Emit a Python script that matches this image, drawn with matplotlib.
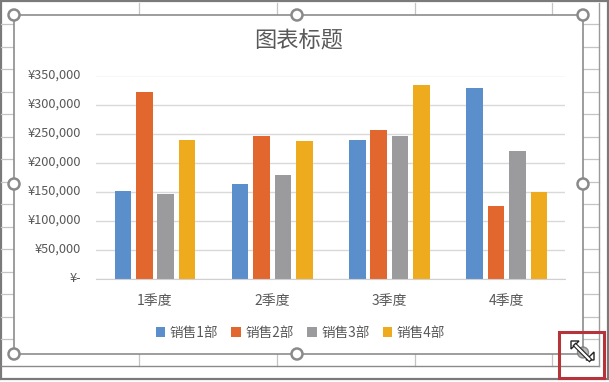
import matplotlib
matplotlib.use("Agg")
import matplotlib.pyplot as plt
import numpy as np
from matplotlib.patches import Circle, Rectangle
from matplotlib.transforms import ScaledTranslation

plt.rcParams["font.family"] = ["Noto Sans CJK SC", "DejaVu Sans"]

W, H = 609, 382

quarters = ["1季度", "2季度", "3季度", "4季度"]
series_names = ["销售1部", "销售2部", "销售3部", "销售4部"]
sales_1 = [152000, 164000, 239000, 328000]
sales_2 = [322000, 246000, 256000, 126000]
sales_3 = [146000, 179000, 246000, 221000]
sales_4 = [239000, 237000, 333000, 150000]
colors = ["#5B8FCB", "#E2672F", "#9B9B9D", "#EFAB1E"]
y_ticks = [0, 50000, 100000, 150000, 200000, 250000, 300000, 350000]
y_labels = ["¥-", "¥50,000", "¥100,000", "¥150,000", "¥200,000", "¥250,000", "¥300,000", "¥350,000"]

# worksheet behind the chart, in screenshot pixels
sheet_cols = [139, 277, 415, 552]
sheet_rows = [24, 47, 69, 92, 114, 137, 159, 182, 204, 227, 249, 272, 294, 317, 339]
handles = [(14, 15), (297, 15), (583, 15), (14, 184), (583, 184), (14, 354), (297, 354)]

fig = plt.figure(figsize=(W / 100, H / 100), dpi=100, facecolor="white")

bg = fig.add_axes([0, 0, 1, 1], zorder=0)
bg.set_xlim(0, W)
bg.set_ylim(H, 0)
bg.axis("off")
for x in sheet_cols:
    bg.plot([x, x], [3, 366], color="#C4C4C4", lw=0.9)
for y in sheet_rows:
    bg.plot([1, 14], [y, y], color="#C4C4C4", lw=0.9)
    bg.plot([583, 599], [y, y], color="#C4C4C4", lw=0.9)
bg.plot([1, 599], [366, 366], color="#8A8A8A", lw=1)
bg.plot([599, 599], [3, 366], color="#9A9A9A", lw=1)
bg.add_patch(Rectangle((1, 1), W - 2, H - 4, fill=False, ec="#7A7A7A", lw=1.6))
bg.add_patch(Rectangle((14, 15), 569, 339, fc="white", ec="#8C8C8C", lw=1.2, zorder=3))

ax = fig.add_axes([96 / W, 1 - 279 / H, 469 / W, 203.5 / H], zorder=1)
ax.patch.set_alpha(0)
x = np.arange(len(quarters))
bar_w = 0.141
pitch = 0.183
for i, values in enumerate([sales_1, sales_2, sales_3, sales_4]):
    ax.bar(x + 0.003 + (i - 1.5) * pitch, values, bar_w, color=colors[i], label=series_names[i], zorder=2)
ax.set_xlim(-0.5, 3.5)
ax.set_ylim(0, 350000)
ax.set_yticks(y_ticks, y_labels)
ax.set_xticks(x, quarters)
ax.yaxis.grid(True, color="#D9D9D9", lw=1)
ax.set_axisbelow(True)
ax.tick_params(length=0, labelcolor="#595959")
ax.tick_params(axis="y", pad=11, labelsize=9.2)
ax.tick_params(axis="x", pad=11, labelsize=10)
up = ScaledTranslation(0, 1.5 / 72, fig.dpi_scale_trans)
for label in ax.get_yticklabels():
    label.set_transform(label.get_transform() + up)
for side in ["top", "right", "left"]:
    ax.spines[side].set_visible(False)
ax.spines["bottom"].set_color("#D0D0D0")

fig.text(299 / W, 1 - 40 / H, "图表标题", ha="center", va="center", fontsize=16, color="#595959", zorder=5)
fig.legend(
    loc="center",
    bbox_to_anchor=(300.5 / W, 1 - 332.5 / H),
    ncol=4,
    frameon=False,
    fontsize=9.8,
    labelcolor="#595959",
    handlelength=0.7,
    handleheight=0.7,
    handletextpad=0.35,
    columnspacing=0.95,
)

top = fig.add_axes([0, 0, 1, 1], zorder=4)
top.set_xlim(0, W)
top.set_ylim(H, 0)
top.axis("off")
for cx, cy in handles:
    top.add_patch(Circle((cx, cy), 5.5, fc="white", ec="#8A8A8A", lw=1.8))
top.add_patch(Rectangle((559, 332), 45, 46, fill=False, ec="#B5343C", lw=2.2))
# resize cursor
top.plot([574, 591], [344, 361], color="#222222", lw=3.2, solid_capstyle="butt")
top.plot([575, 590], [345, 360], color="white", lw=1.6, solid_capstyle="butt")
for tip, a, b in [((571, 341), (571, 349), (579, 341)), ((594, 360), (594, 352), (586, 360))]:
    top.fill([tip[0], a[0], b[0]], [tip[1], a[1], b[1]], fc="white", ec="#222222", lw=1)
top.add_patch(Circle((583, 352.5), 5.5, fc="#A9A9A9", ec="#777777", lw=1, alpha=0.8))

fig.savefig("out.png", dpi=100)
